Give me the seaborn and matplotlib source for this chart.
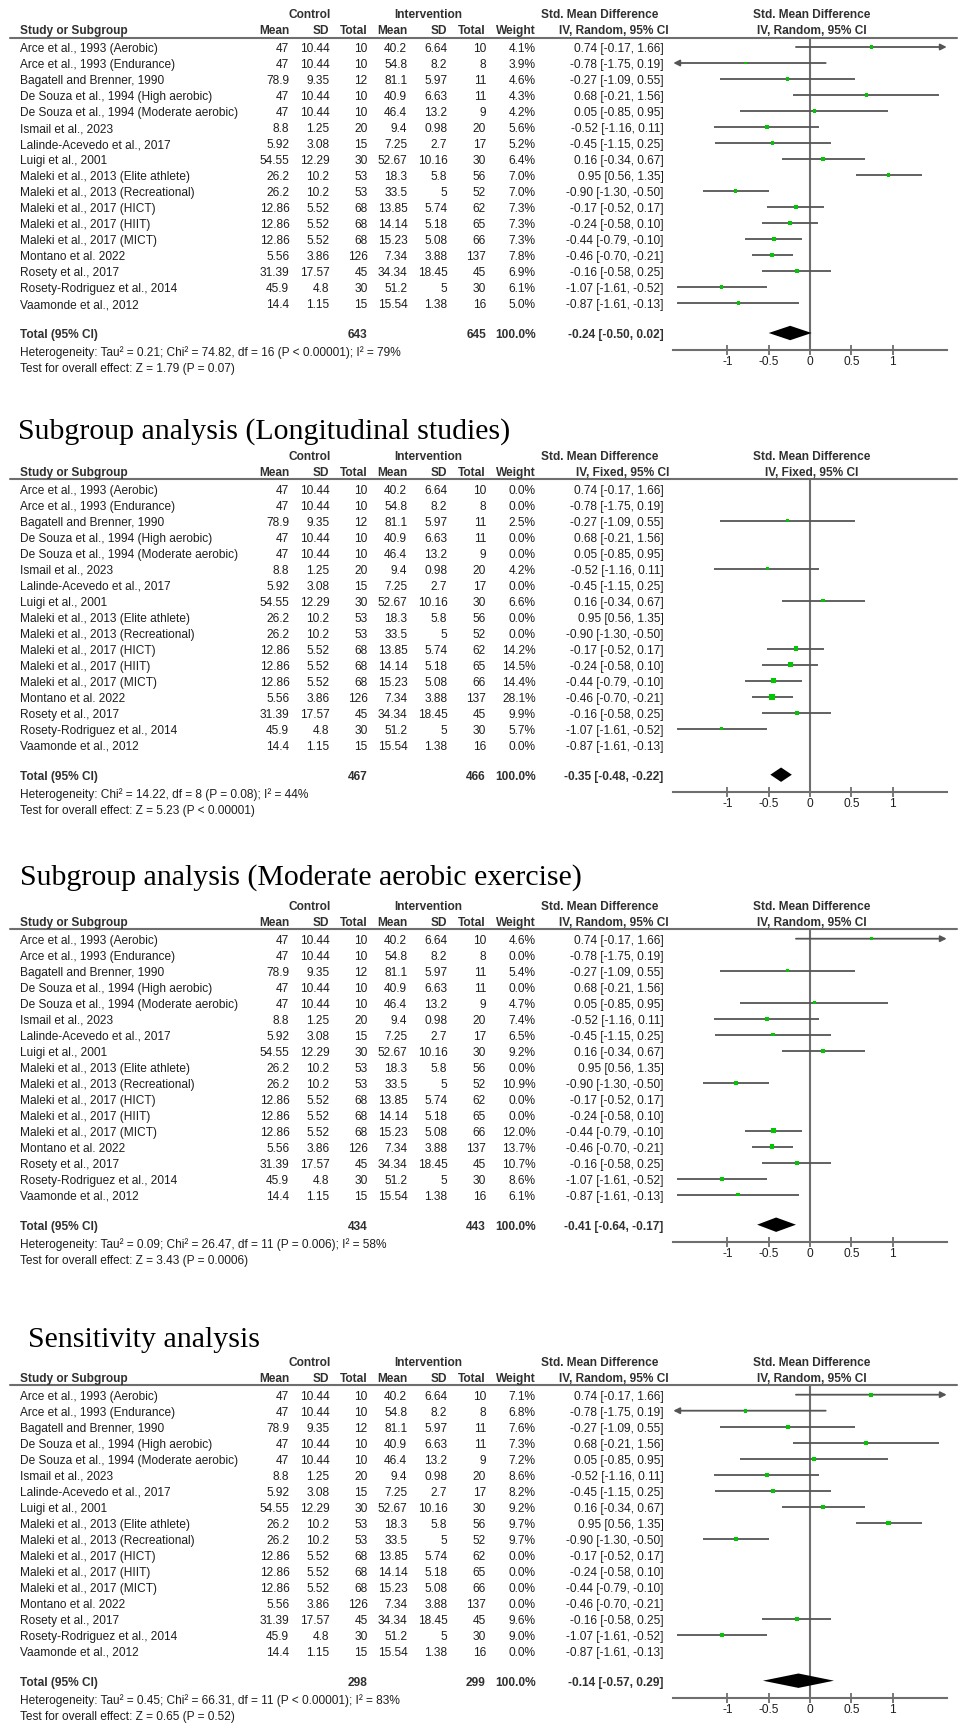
import matplotlib
matplotlib.use("Agg")
import matplotlib.pyplot as plt
import seaborn as sns
import pandas as pd

# ---- data ----
studies = ["Arce et al., 1993 (Aerobic)", "Arce et al., 1993 (Endurance)", "Bagatell and Brenner, 1990",
           "De Souza et al., 1994 (High aerobic)", "De Souza et al., 1994 (Moderate aerobic)",
           "Ismail et al., 2023", "Lalinde-Acevedo et al., 2017", "Luigi et al., 2001",
           "Maleki et al., 2013 (Elite athlete)", "Maleki et al., 2013 (Recreational)",
           "Maleki et al., 2017 (HICT)", "Maleki et al., 2017 (HIIT)", "Maleki et al., 2017 (MICT)",
           "Montano et al. 2022", "Rosety et al., 2017", "Rosety-Rodriguez et al., 2014", "Vaamonde et al., 2012"]
ctrl_mean = [47, 47, 78.9, 47, 47, 8.8, 5.92, 54.55, 26.2, 26.2, 12.86, 12.86, 12.86, 5.56, 31.39, 45.9, 14.4]
ctrl_sd = [10.44, 10.44, 9.35, 10.44, 10.44, 1.25, 3.08, 12.29, 10.2, 10.2, 5.52, 5.52, 5.52, 3.86, 17.57, 4.8, 1.15]
ctrl_n = [10, 10, 12, 10, 10, 20, 15, 30, 53, 53, 68, 68, 68, 126, 45, 30, 15]
int_mean = [40.2, 54.8, 81.1, 40.9, 46.4, 9.4, 7.25, 52.67, 18.3, 33.5, 13.85, 14.14, 15.23, 7.34, 34.34, 51.2, 15.54]
int_sd = [6.64, 8.2, 5.97, 6.63, 13.2, 0.98, 2.7, 10.16, 5.8, 5, 5.74, 5.18, 5.08, 3.88, 18.45, 5, 1.38]
int_n = [10, 8, 11, 11, 9, 20, 17, 30, 56, 52, 62, 65, 66, 137, 45, 30, 16]
smd = [0.74, -0.78, -0.27, 0.68, 0.05, -0.52, -0.45, 0.16, 0.95, -0.90, -0.17, -0.24, -0.44, -0.46, -0.16, -1.07, -0.87]
ci_lo = [-0.17, -1.75, -1.09, -0.21, -0.85, -1.16, -1.15, -0.34, 0.56, -1.30, -0.52, -0.58, -0.79, -0.70, -0.58, -1.61, -1.61]
ci_hi = [1.66, 0.19, 0.55, 1.56, 0.95, 0.11, 0.25, 0.67, 1.35, -0.50, 0.17, 0.10, -0.10, -0.21, 0.25, -0.52, -0.13]

weights_overall = [4.1, 3.9, 4.6, 4.3, 4.2, 5.6, 5.2, 6.4, 7.0, 7.0, 7.3, 7.3, 7.3, 7.8, 6.9, 6.1, 5.0]
weights_longit = [0.0, 0.0, 2.5, 0.0, 0.0, 4.2, 0.0, 6.6, 0.0, 0.0, 14.2, 14.5, 14.4, 28.1, 9.9, 5.7, 0.0]
weights_moderate = [4.6, 0.0, 5.4, 0.0, 4.7, 7.4, 6.5, 9.2, 0.0, 10.9, 0.0, 0.0, 12.0, 13.7, 10.7, 8.6, 6.1]
weights_sens = [7.1, 6.8, 7.6, 7.3, 7.2, 8.6, 8.2, 9.2, 9.7, 9.7, 0.0, 0.0, 0.0, 0.0, 9.6, 9.0, 0.0]

panel_titles = [None, "Subgroup analysis (Longitudinal studies)",
                "Subgroup analysis (Moderate aerobic exercise)", "Sensitivity analysis"]
methods = ["IV, Random, 95% CI", "IV, Fixed, 95% CI", "IV, Random, 95% CI", "IV, Random, 95% CI"]
total_ctrl = [643, 467, 434, 298]
total_int = [645, 466, 443, 299]
pooled_est = [-0.24, -0.35, -0.41, -0.14]
pooled_lo = [-0.50, -0.48, -0.64, -0.57]
pooled_hi = [0.02, -0.22, -0.17, 0.29]
het_text = ["Heterogeneity: Tau\u00b2 = 0.21; Chi\u00b2 = 74.82, df = 16 (P < 0.00001); I\u00b2 = 79%",
            "Heterogeneity: Chi\u00b2 = 14.22, df = 8 (P = 0.08); I\u00b2 = 44%",
            "Heterogeneity: Tau\u00b2 = 0.09; Chi\u00b2 = 26.47, df = 11 (P = 0.006); I\u00b2 = 58%",
            "Heterogeneity: Tau\u00b2 = 0.45; Chi\u00b2 = 66.31, df = 11 (P < 0.00001); I\u00b2 = 83%"]
test_text = ["Test for overall effect: Z = 1.79 (P = 0.07)",
             "Test for overall effect: Z = 5.23 (P < 0.00001)",
             "Test for overall effect: Z = 3.43 (P = 0.0006)",
             "Test for overall effect: Z = 0.65 (P = 0.52)"]
tick_vals = [-1, -0.5, 0, 0.5, 1]
tick_labels = ["-1", "-0.5", "0", "0.5", "1"]

# ---- layout (pixels) ----
W, H = 967, 1732
panel_top = [0, 441.7, 891.7, 1347.7]
title_pos = [None, (18, 438.3), (20, 885), (28, 1346.7)]
ROW0, STEP = 49, 16
XLIM = 1.655
FX0, FX1 = 673.3, 946.7
FS = 8.6
TXT = "#1e1e1e"
HDR = "#303030"
LINE = "#6e6e6e"
CI_COL = "#555555"
GREEN = "#00c800"

sns.set_theme(style="white")
plt.rcParams["font.family"] = ["Liberation Sans", "DejaVu Sans"]

fig = plt.figure(figsize=(W / 100, H / 100), dpi=100)
fig.patch.set_facecolor("white")


def rows(px):
    return (px - ROW0) / STEP


def px_axes(x0, y0, x1, y1):
    return fig.add_axes([x0 / W, 1 - y1 / H, (x1 - x0) / W, (y1 - y0) / H])


all_weights = [weights_overall, weights_longit, weights_moderate, weights_sens]

for p in range(4):
    top = panel_top[p]
    weights = all_weights[p]
    df = pd.DataFrame({"study": studies, "smd": smd, "lo": ci_lo, "hi": ci_hi,
                       "w": weights, "row": range(len(studies))})

    # table text
    tab = px_axes(0, top, W, top + 385)
    tab.set_xlim(0, W)
    tab.set_ylim(rows(385), rows(0))
    tab.axis("off")

    def t(x, y, s, ha="right", bold=False, color=TXT):
        tab.text(x, y, s, ha=ha, va="center", fontsize=FS,
                 fontweight="bold" if bold else "normal", color=color)

    y1, y2 = rows(15), rows(31)
    t(310, y1, "Control", ha="center", bold=True, color=HDR)
    t(428, y1, "Intervention", ha="center", bold=True, color=HDR)
    t(600, y1, "Std. Mean Difference", ha="center", bold=True, color=HDR)
    t(812, y1, "Std. Mean Difference", ha="center", bold=True, color=HDR)
    t(20, y2, "Study or Subgroup", ha="left", bold=True, color=HDR)
    for x, s in [(289.3, "Mean"), (329.3, "SD"), (367.7, "Total"), (407.3, "Mean"),
                 (447.3, "SD"), (486, "Total"), (535.7, "Weight"), (669, methods[p])]:
        t(x, y2, s, bold=True, color=HDR)
    t(812, y2, methods[p], ha="center", bold=True, color=HDR)
    tab.axhline(rows(37.7), xmin=10 / W, xmax=957 / W, color=LINE, lw=1.5)

    for i in range(len(studies)):
        t(20, i, studies[i], ha="left")
        t(289.3, i, f"{ctrl_mean[i]:g}")
        t(329.3, i, f"{ctrl_sd[i]:g}")
        t(367.7, i, f"{ctrl_n[i]}")
        t(407.3, i, f"{int_mean[i]:g}")
        t(447.3, i, f"{int_sd[i]:g}")
        t(486, i, f"{int_n[i]}")
        t(535.7, i, f"{weights[i]:.1f}%")
        t(663.7, i, f"{smd[i]:.2f} [{ci_lo[i]:.2f}, {ci_hi[i]:.2f}]")

    yt = rows(335)
    t(20, yt, "Total (95% CI)", ha="left", bold=True, color=HDR)
    t(367.7, yt, f"{total_ctrl[p]}", bold=True, color=HDR)
    t(486, yt, f"{total_int[p]}", bold=True, color=HDR)
    t(535.7, yt, "100.0%", bold=True, color=HDR)
    t(663.7, yt, f"{pooled_est[p]:.2f} [{pooled_lo[p]:.2f}, {pooled_hi[p]:.2f}]", bold=True, color=HDR)
    t(20, rows(352.7), het_text[p], ha="left")
    t(20, rows(369), test_text[p], ha="left")

    # forest plot
    shift = 2 / STEP
    fax = px_axes(FX0, top + 37.7, FX1, top + 350)
    fax.set_xlim(-XLIM, XLIM)
    fax.set_ylim(rows(350) + shift, rows(37.7) + shift)
    fax.patch.set_alpha(0)
    for side in ["top", "right", "left"]:
        fax.spines[side].set_visible(False)
    fax.spines["bottom"].set_color(LINE)
    fax.spines["bottom"].set_linewidth(1.5)
    fax.set_yticks([])
    fax.set_xticks(tick_vals)
    fax.set_xticklabels(tick_labels)
    fax.tick_params(axis="x", direction="inout", length=7, width=1.3, color=LINE,
                    labelsize=FS, labelcolor=TXT, pad=1, bottom=True)
    fax.axvline(0, color=LINE, lw=1.5, zorder=1)

    shown = df[df["w"] > 0]
    for _, r in shown.iterrows():
        lo_c, hi_c = max(r["lo"], -XLIM), min(r["hi"], XLIM)
        if r["hi"] > XLIM:
            fax.annotate("", xy=(XLIM, r["row"]), xytext=(lo_c, r["row"]), annotation_clip=False,
                         arrowprops=dict(arrowstyle="-|>", color=CI_COL, lw=1.3,
                                         shrinkA=0, shrinkB=0, mutation_scale=9))
        elif r["lo"] < -XLIM:
            fax.annotate("", xy=(-XLIM, r["row"]), xytext=(hi_c, r["row"]), annotation_clip=False,
                         arrowprops=dict(arrowstyle="-|>", color=CI_COL, lw=1.3,
                                         shrinkA=0, shrinkB=0, mutation_scale=9))
        else:
            fax.hlines(r["row"], lo_c, hi_c, color=CI_COL, lw=1.3, zorder=2)

    # square side (px) grows with the study weight
    size_map = {w: (0.72 * (1.0 + w ** 0.5)) ** 2 for w in shown["w"].unique()}
    sns.scatterplot(data=shown, x="smd", y="row", size="w", sizes=size_map, marker="s",
                    color=GREEN, linewidth=0, legend=False, ax=fax, zorder=3)
    fax.set_xlabel("")
    fax.set_ylabel("")

    yd = rows(335)
    fax.fill([pooled_lo[p], pooled_est[p], pooled_hi[p], pooled_est[p]],
             [yd, yd - 0.45, yd, yd + 0.45], color="black", zorder=4, lw=0)

    if panel_titles[p]:
        x, y = title_pos[p]
        fig.text(x / W, 1 - y / H, panel_titles[p], family="Liberation Serif",
                 fontsize=21.5, va="baseline", ha="left", color="black")

fig.savefig("out.png", dpi=100, facecolor="white")
